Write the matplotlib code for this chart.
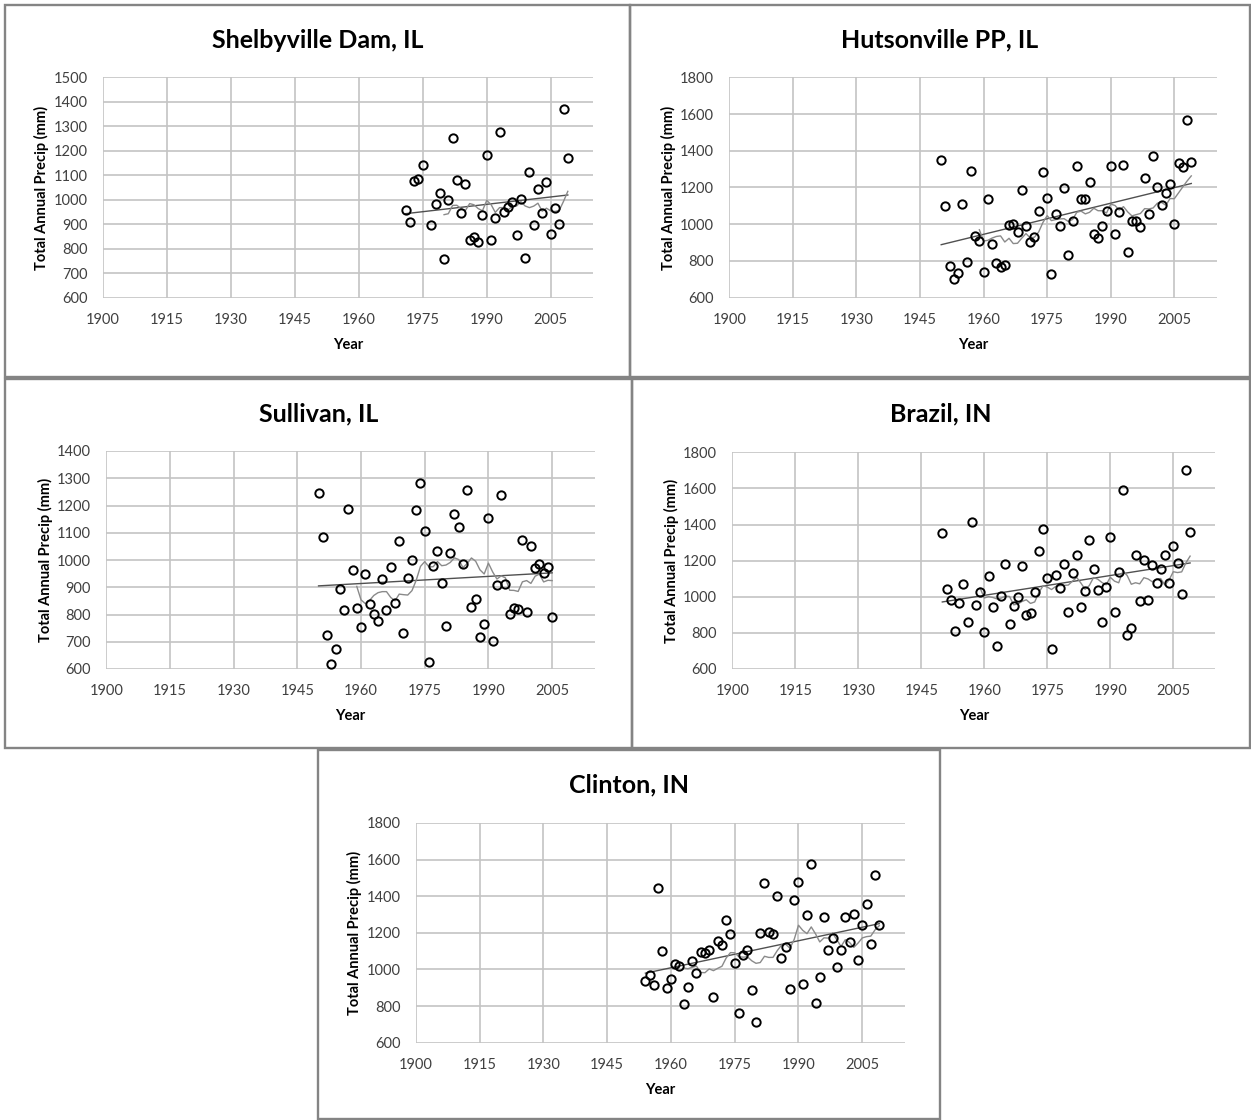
import numpy as np
import pandas as pd
import matplotlib
matplotlib.use("Agg")
import matplotlib.pyplot as plt
from matplotlib.patches import Rectangle

plt.rcParams['font.family'] = ['Lato', 'DejaVu Sans']

# ---- station records: total annual precipitation (mm) ----
# 1976 at Shelbyville falls below the 600 mm axis floor, so its marker is clipped
shelby_first_year = 1971
shelby_precip = [960, 910, 1076, 1084, 1143, 552, 898, 982, 1026, 759,
                 999, 1251, 1080, 947, 1065, 837, 849, 826, 937, 1181,
                 837, 924, 1275, 948, 969, 990, 857, 1003, 762, 1113,
                 898, 1044, 947, 1071, 861, 965, 902, 1372, 1170]

hutson_first_year = 1950
hutson_precip = [1350, 1100, 771, 700, 737, 1109, 795, 1289, 938, 909,
                 740, 1136, 893, 788, 768, 777, 996, 1002, 955, 1185,
                 991, 902, 931, 1073, 1285, 1145, 728, 1058, 991, 1198,
                 835, 1018, 1319, 1136, 1136, 1230, 949, 924, 989, 1074,
                 1319, 947, 1067, 1323, 849, 1015, 1015, 987, 1254, 1056,
                 1374, 1205, 1107, 1171, 1218, 1002, 1334, 1312, 1570, 1339]

sullivan_first_year = 1950
sullivan_precip = [1247, 1084, 725, 617, 673, 892, 817, 1187, 965, 825,
                   753, 947, 837, 801, 777, 930, 817, 973, 843, 1070,
                   733, 933, 999, 1183, 1284, 1105, 624, 979, 1033, 917,
                   758, 1027, 1169, 1121, 987, 1256, 828, 858, 719, 764,
                   1155, 704, 909, 1239, 913, 801, 823, 819, 1072, 810,
                   1051, 969, 985, 952, 973, 790]

brazil_first_year = 1950
brazil_precip = [1354, 1042, 983, 810, 965, 1070, 862, 1414, 954, 1028,
                 806, 1114, 941, 729, 1006, 1179, 847, 950, 1000, 1170,
                 898, 911, 1024, 1255, 1377, 1105, 710, 1120, 1048, 1183,
                 915, 1129, 1229, 943, 1030, 1314, 1151, 1035, 862, 1054,
                 1332, 915, 1138, 1591, 791, 825, 1233, 976, 1201, 983,
                 1177, 1076, 1155, 1229, 1079, 1279, 1185, 1015, 1700, 1356]

clinton_first_year = 1954
clinton_precip = [938, 971, 914, 1444, 1100, 898,
                  947, 1031, 1020, 812, 903, 1047, 980, 1097, 1089, 1104,
                  852, 1158, 1133, 1268, 1193, 1036, 763, 1077, 1109, 887,
                  712, 1200, 1475, 1206, 1195, 1403, 1064, 1124, 891, 1381,
                  1477, 920, 1295, 1574, 818, 960, 1288, 1109, 1173, 1015,
                  1106, 1286, 1148, 1304, 1051, 1244, 1357, 1137, 1515, 1244]

year_ticks = [1900, 1915, 1930, 1945, 1960, 1975, 1990, 2005]

W, H = 1251, 1120
fig = plt.figure(figsize=(W / 100, H / 100), dpi=100)
fig.patch.set_facecolor('white')


def px_rect(x0, y0, x1, y1):
    return [x0 / W, 1 - y1 / H, (x1 - x0) / W, (y1 - y0) / H]


def panel(frame, plot_box, title, first_year, values, ylim, ystep):
    fx0, fy0, fx1, fy1 = frame
    fig.patches.append(Rectangle((fx0 / W, 1 - fy1 / H), (fx1 - fx0) / W,
                                 (fy1 - fy0) / H, transform=fig.transFigure,
                                 fill=False, edgecolor='#848484', linewidth=1.7,
                                 zorder=0))
    ax = fig.add_axes(px_rect(*plot_box))
    years = np.arange(first_year, first_year + len(values))
    s = pd.Series(values, index=years, dtype=float)

    ax.plot(s.index, s.values, linestyle='none', marker='o', markersize=6,
            markerfacecolor='none', markeredgecolor='black',
            markeredgewidth=1.4, zorder=3)
    # linear trend
    coef = np.polyfit(s.index, s.values, 1)
    xt = np.array([s.index.min(), s.index.max()])
    ax.plot(xt, np.polyval(coef, xt), color='#505050', linewidth=1.0, zorder=2)
    # 10-year moving average
    ma = s.rolling(10).mean().dropna()
    ax.plot(ma.index, ma.values, color='#8a8a8a', linewidth=1.0, zorder=2)

    ax.set_xlim(1900, 2015)
    ax.set_ylim(*ylim)
    ax.set_xticks(year_ticks)
    ax.set_yticks(np.arange(ylim[0], ylim[1] + 1, ystep))
    ax.grid(True, color='#c4c4c4', linewidth=1.2)
    ax.set_axisbelow(True)
    for sp in ax.spines.values():
        sp.set_visible(False)
    ax.tick_params(length=0, labelsize=10.5, labelcolor='#404040')
    ax.tick_params(axis='x', pad=11)
    ax.tick_params(axis='y', pad=11)

    bx0, by0, bx1, by1 = plot_box
    cx = (fx0 + fx1) / 2
    fig.text(cx / W, 1 - (fy0 + 35) / H, title, ha='center', va='center',
             fontsize=18, fontweight='bold', color='black')
    fig.text((bx0 + bx1) / 2 / W, 1 - (by1 + 47) / H, 'Year', ha='center',
             va='center', fontsize=10.5, fontweight='bold', color='black')
    fig.text((bx0 - 61) / W, 1 - (by0 + by1) / 2 / H,
             'Total Annual Precip (mm)', ha='center', va='center',
             rotation=90, fontsize=10.5, fontweight='bold', color='black')
    return ax


panel((5, 5, 630, 377), (102.7, 77.3, 593.4, 297.7), 'Shelbyville Dam, IL',
      shelby_first_year, shelby_precip, (600, 1500), 100)
panel((630, 5, 1250, 377), (729.3, 77.3, 1216.7, 297.7), 'Hutsonville PP, IL',
      hutson_first_year, hutson_precip, (600, 1800), 200)
panel((5, 379, 632, 748), (106.2, 451, 594.6, 669), 'Sullivan, IL',
      sullivan_first_year, sullivan_precip, (600, 1400), 100)
panel((632, 379, 1250, 748), (732.3, 452.3, 1215.3, 669), 'Brazil, IN',
      brazil_first_year, brazil_precip, (600, 1800), 200)
panel((318, 750, 940, 1119), (415.8, 823, 904.8, 1042.7), 'Clinton, IN',
      clinton_first_year, clinton_precip, (600, 1800), 200)

fig.savefig('out.png', dpi=100, facecolor='white')
